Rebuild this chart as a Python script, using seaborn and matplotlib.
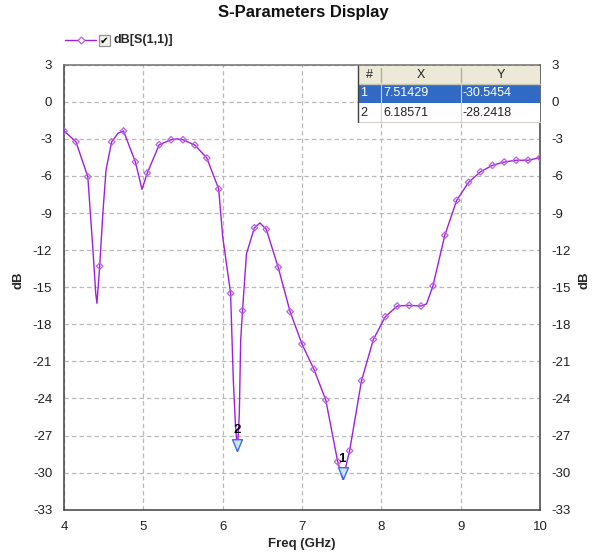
import numpy as np
import pandas as pd
import matplotlib
matplotlib.use("Agg")
import matplotlib.pyplot as plt
from matplotlib.patches import Rectangle
from matplotlib.lines import Line2D
import seaborn as sns

# Sampled S11 points (0.15 GHz spacing, drawn with markers)
grid_freq = [4.00, 4.15, 4.30, 4.45, 4.60, 4.75, 4.90, 5.05, 5.20, 5.35,
             5.50, 5.65, 5.80, 5.95, 6.10, 6.25, 6.40, 6.55, 6.70, 6.85,
             7.00, 7.15, 7.30, 7.45, 7.60, 7.75, 7.90, 8.05, 8.20, 8.35,
             8.50, 8.65, 8.80, 8.95, 9.10, 9.25, 9.40, 9.55, 9.70, 9.85,
             10.00]
grid_db = [-2.36, -3.23, -6.06, -13.3, -3.25, -2.36, -4.87, -5.76, -3.47, -3.07,
           -3.07, -3.50, -4.55, -7.06, -15.5, -16.9, -10.19, -10.32, -13.39, -16.98,
           -19.60, -21.64, -24.13, -29.12, -28.23, -22.57, -19.22, -17.39, -16.52, -16.47,
           -16.52, -14.90, -10.80, -7.97, -6.51, -5.66, -5.14, -4.87, -4.73, -4.73,
           -4.52]

# Additional points of the swept trace between samples (resonance dips, peaks)
extra_freq = [4.33, 4.365, 4.40, 4.415, 4.49, 4.53, 4.68, 4.983, 5.42,
              6.00, 6.134, 6.16, 6.21, 6.227, 6.30, 6.47, 8.57]
extra_db = [-8.8, -12.0, -15.5, -16.3, -9.0, -5.5, -2.55, -7.08, -3.0,
            -10.9, -22.5, -26.0, -25.2, -19.3, -12.3, -9.8, -16.35]

# Marker readouts
mk_id = [1, 2]
mk_freq = [7.51429, 6.18571]
mk_db = [-30.5454, -28.2418]

x_ticks = [4, 5, 6, 7, 8, 9, 10]
y_ticks = [3, 0, -3, -6, -9, -12, -15, -18, -21, -24, -27, -30, -33]

W, H = 603, 553
LINE_C = "#a01ee0"
MARK_C = "#b860ea"

sns.set_theme(style="white")
plt.rcParams["font.family"] = ["Liberation Sans", "DejaVu Sans"]

trace = pd.DataFrame({"freq": grid_freq + extra_freq + mk_freq,
                      "db": grid_db + extra_db + mk_db}).sort_values("freq")
samples = pd.DataFrame({"freq": grid_freq, "db": grid_db})

fig = plt.figure(figsize=(W / 100, H / 100), dpi=100)
fig.patch.set_facecolor("white")


def fx(px):
    return px / W


def fy(py):
    return 1 - py / H


ax = fig.add_axes([fx(64), fy(509.7), (540 - 64) / W, (509.7 - 64.7) / H])
ax.set_facecolor("white")

sns.lineplot(data=trace, x="freq", y="db", ax=ax, color=LINE_C, lw=1.0,
             sort=False, estimator=None, zorder=3)
sns.scatterplot(data=samples, x="freq", y="db", ax=ax, marker="D", s=11,
                facecolor="none", edgecolor=MARK_C, linewidth=0.9, zorder=4)

# Marker triangles (tip on the trace) with their numbers
tri = [(0, 0), (-0.42, 1), (0.42, 1), (0, 0)]
for i, f, d in zip(mk_id, mk_freq, mk_db):
    ax.plot([f], [d], marker=tri, ms=17, mfc="#cfe2ff", mec="#3a6cf0",
            mew=1.0, ls="none", zorder=5)
    ax.annotate(str(i), (f, d), xytext=(-0.5, 15), textcoords="offset points",
                ha="center", va="center", fontsize=9.5, fontweight="bold",
                color="black", zorder=6)

ax.set_xlim(4, 10)
ax.set_ylim(-33, 3)
ax.set_xticks(x_ticks)
ax.set_yticks(y_ticks)
ax.set_xticklabels([str(t) for t in x_ticks])
ax.set_yticklabels([str(t) for t in y_ticks])
ax.grid(True, color="#b8b8b8", ls=(0, (3.5, 2.5)), lw=0.9)
for s in ax.spines.values():
    s.set_visible(True)
    s.set_color("#404040")
    s.set_linewidth(1.1)
ax.spines["top"].set_color("#707070")
ax.tick_params(axis="both", length=0, labelsize=9.5, colors="#202020")
ax.tick_params(axis="y", pad=8.5, right=True, labelright=True)
ax.tick_params(axis="x", pad=8)
ax.yaxis.set_tick_params(which="major", labelleft=True, labelright=True)
ax.set_xlabel("Freq (GHz)", fontsize=9.5, fontweight="bold", labelpad=4)
ax.set_ylabel("")

fig.text(fx(18), fy(280), "dB", rotation=90, ha="center", va="center",
         fontsize=9.5, fontweight="bold")
fig.text(fx(584), fy(280), "dB", rotation=90, ha="center", va="center",
         fontsize=9.5, fontweight="bold")

fig.text(fx(303), fy(12), "S-Parameters Display", ha="center", va="center",
         fontsize=12, fontweight="bold", color="#111111")

# Legend entry with checkbox
fig.add_artist(Line2D([fx(65), fx(96)], [fy(40), fy(40)], color=LINE_C, lw=1.0,
                      transform=fig.transFigure))
fig.add_artist(Line2D([fx(81)], [fy(40)], marker="D", ms=3.5, mfc="white",
                      mec=MARK_C, mew=0.9, ls="none", transform=fig.transFigure))
fig.add_artist(Rectangle((fx(99), fy(46)), 11 / W, 11 / H, transform=fig.transFigure,
                         facecolor="#f2f2ec", edgecolor="#909090", lw=0.9))
fig.text(fx(104.5), fy(40.5), "\u2714", ha="center", va="center", fontsize=7.5,
         family=["DejaVu Sans"], color="black")
fig.text(fx(113), fy(40.5), "dB[S(1,1)]", ha="left", va="center", fontsize=9,
         fontweight="bold")

# Marker readout table
col_x = [358, 381, 461, 540]
row_y = [66, 84, 103, 122]
header = ["#", "X", "Y"]
fig.add_artist(Rectangle((fx(col_x[0]), fy(row_y[1])), (col_x[3] - col_x[0]) / W,
                         (row_y[1] - row_y[0]) / H, transform=fig.transFigure,
                         facecolor="#ece9d8", edgecolor="none", zorder=10))
fig.add_artist(Rectangle((fx(col_x[0]), fy(row_y[2])), (col_x[3] - col_x[0]) / W,
                         (row_y[2] - row_y[1]) / H, transform=fig.transFigure,
                         facecolor="#316ac5", edgecolor="none", zorder=10))
fig.add_artist(Rectangle((fx(col_x[0]), fy(row_y[3])), (col_x[3] - col_x[0]) / W,
                         (row_y[3] - row_y[2]) / H, transform=fig.transFigure,
                         facecolor="white", edgecolor="none", zorder=10))
for cx in col_x[1:3]:
    fig.add_artist(Line2D([fx(cx), fx(cx)], [fy(row_y[0] + 2), fy(row_y[1] - 2)],
                          color="#b0ad9c", lw=1.0, transform=fig.transFigure, zorder=11))
    fig.add_artist(Line2D([fx(cx), fx(cx)], [fy(row_y[1]), fy(row_y[3])],
                          color="#d4d0c8", lw=0.8, transform=fig.transFigure, zorder=11))
fig.add_artist(Line2D([fx(col_x[0]), fx(col_x[0])], [fy(row_y[0]), fy(row_y[3])],
                      color="#404040", lw=1.0, transform=fig.transFigure, zorder=12))
fig.add_artist(Line2D([fx(col_x[0]), fx(col_x[3])], [fy(row_y[1]), fy(row_y[1])],
                      color="#c8c4b4", lw=1.0, transform=fig.transFigure, zorder=11))
fig.add_artist(Line2D([fx(col_x[0]), fx(col_x[3])], [fy(row_y[3]), fy(row_y[3])],
                      color="#d4d0c8", lw=0.8, transform=fig.transFigure, zorder=11))
for j, h in enumerate(header):
    fig.text(fx((col_x[j] + col_x[j + 1]) / 2), fy((row_y[0] + row_y[1]) / 2), h,
             ha="center", va="center", fontsize=9, color="#202020", zorder=13)
for r, (i, f, d) in enumerate(zip(mk_id, mk_freq, mk_db)):
    tc = "white" if r == 0 else "#202020"
    yc = fy((row_y[r + 1] + row_y[r + 2]) / 2)
    for j, val in enumerate([str(i), f"{f:.5f}", f"{d:.4f}"]):
        fig.text(fx(col_x[j] + 2), yc, val, ha="left", va="center", fontsize=9,
                 color=tc, zorder=13)

fig.savefig("out.png", dpi=100, facecolor="white")
